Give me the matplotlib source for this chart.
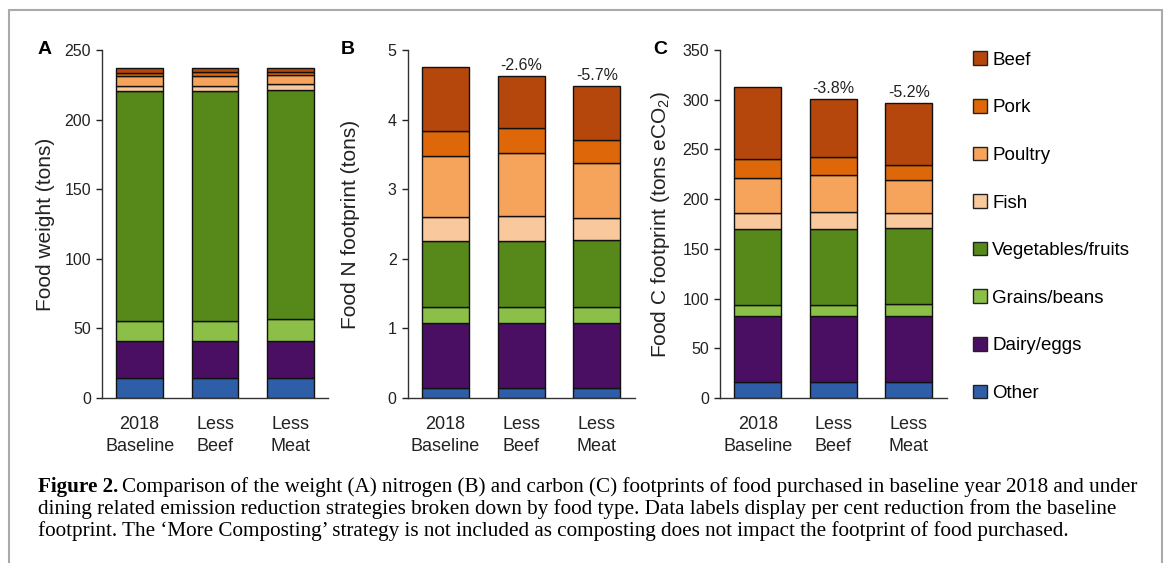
import numpy as np
import matplotlib
matplotlib.use("Agg")
import matplotlib.pyplot as plt
from matplotlib.patches import Patch, Rectangle

plt.rcParams['font.family'] = ['Liberation Sans', 'DejaVu Sans']
plt.rcParams['mathtext.fontset'] = 'custom'
plt.rcParams['mathtext.rm'] = 'Liberation Sans'
plt.rcParams['mathtext.it'] = 'Liberation Sans:italic'

scenarios = ['2018\nBaseline', 'Less\nBeef', 'Less\nMeat']
food_types = ['Other', 'Dairy/eggs', 'Grains/beans', 'Vegetables/fruits',
              'Fish', 'Poultry', 'Pork', 'Beef']
colors = ['#2f5ea8', '#4a0f62', '#8cbf48', '#56881a',
          '#f9c99d', '#f6a35c', '#de6809', '#b5470d']

# segment values per food type (bottom -> top), one value per scenario
weight = {
    'Other':             [14.6, 14.6, 14.6],
    'Dairy/eggs':        [26.6, 26.6, 26.6],
    'Grains/beans':      [14.3, 14.3, 15.3],
    'Vegetables/fruits': [165.0, 165.0, 165.0],
    'Fish':              [3.6, 3.7, 4.1],
    'Poultry':           [7.2, 7.4, 6.4],
    'Pork':              [2.4, 2.4, 2.5],
    'Beef':              [3.6, 3.1, 2.5],
}
nitrogen = {
    'Other':             [0.15, 0.15, 0.15],
    'Dairy/eggs':        [0.93, 0.93, 0.93],
    'Grains/beans':      [0.23, 0.23, 0.23],
    'Vegetables/fruits': [0.945, 0.945, 0.96],
    'Fish':              [0.345, 0.365, 0.32],
    'Poultry':           [0.87, 0.905, 0.79],
    'Pork':              [0.37, 0.36, 0.33],
    'Beef':              [0.91, 0.745, 0.775],
}
carbon = {
    'Other':             [16.1, 16.1, 16.1],
    'Dairy/eggs':        [66.1, 66.1, 66.1],
    'Grains/beans':      [11.1, 11.1, 12.1],
    'Vegetables/fruits': [76.8, 76.8, 76.5],
    'Fish':              [16.1, 16.9, 14.8],
    'Poultry':           [35.3, 37.5, 33.9],
    'Pork':              [18.5, 18.1, 15.0],
    'Beef':              [73.1, 58.4, 62.5],
}
n_labels = ['', '-2.6%', '-5.7%']
c_labels = ['', '-3.8%', '-5.2%']

W, H = 1168, 563
fig = plt.figure(figsize=(W / 100, H / 100), dpi=100)

# grey frame around the figure block
fig.patches.append(Rectangle((9 / W, -0.1), (1162 - 9) / W, 1.1 - 10 / H,
                             transform=fig.transFigure, fill=False,
                             edgecolor='#aaaaaa', lw=1.5))


def stacked(ax, data, ylim, yticks, ylabel, letter, letter_x, pct=None):
    x = np.arange(len(scenarios))
    bottom = np.zeros(len(scenarios))
    for name, col in zip(food_types, colors):
        vals = np.array(data[name])
        ax.bar(x, vals, 0.62, bottom=bottom, color=col, edgecolor='#111111',
               linewidth=1.0, label=name)
        bottom += vals
    if pct is not None:
        for xi, tot, lab in zip(x, bottom, pct):
            if lab:
                ax.annotate(lab, (xi, tot), xytext=(0, 2), textcoords='offset points',
                            ha='center', va='bottom', fontsize=11.5, color='#222222')
    ax.set_xlim(-0.5, 2.5)
    ax.set_ylim(*ylim)
    ax.set_yticks(yticks)
    ax.set_xticks(x)
    ax.set_xticklabels(scenarios, fontsize=13, linespacing=1.4)
    ax.tick_params(axis='x', length=0, pad=13, colors='#222222')
    ax.tick_params(axis='y', length=4, width=1, labelsize=11.5, pad=4, colors='#222222')
    for s in ['top', 'right']:
        ax.spines[s].set_visible(False)
    for s in ['left', 'bottom']:
        ax.spines[s].set_color('#333333')
        ax.spines[s].set_linewidth(1.0)
    ax.set_ylabel(ylabel, fontsize=15, color='#222222')
    ax.yaxis.set_label_coords(-0.21, 0.5)
    ax.text(letter_x, 1.0, letter, transform=ax.transAxes, fontsize=14,
            fontweight='bold', ha='center', va='center')


ax_a = fig.add_axes([102 / W, (H - 398) / H, 226 / W, 348 / H])
ax_b = fig.add_axes([407.7 / W, (H - 398) / H, 227 / W, 348 / H])
ax_c = fig.add_axes([720 / W, (H - 398) / H, 226.7 / W, 348 / H])

stacked(ax_a, weight, (0, 250), range(0, 251, 50), 'Food weight (tons)', 'A', -0.252)
stacked(ax_b, nitrogen, (0, 5), range(0, 6), 'Food N footprint (tons)', 'B', -0.263,
        n_labels)
stacked(ax_c, carbon, (0, 350), range(0, 351, 50),
        'Food C footprint (tons eCO$_2$)', 'C', -0.265, c_labels)

handles = [Patch(facecolor=c, edgecolor='#222222', lw=1.0, label=n)
           for n, c in zip(food_types[::-1], colors[::-1])]
fig.legend(handles=handles, loc='upper left', bbox_to_anchor=(964 / W, 1 - 42 / H),
           frameon=False, fontsize=13.5, handlelength=0.75, handleheight=0.75,
           handletextpad=0.25, labelspacing=1.61, borderpad=0)

# caption
cap_font = ['Liberation Serif', 'DejaVu Serif']
cap_size = 15.2
fig.canvas.draw()
r = fig.canvas.get_renderer()
t0 = fig.text(38 / W, 1 - 487 / H, 'Figure 2.', family=cap_font, fontsize=cap_size,
              fontweight='bold', va='center')
bb = t0.get_window_extent(renderer=r)
fig.text((bb.x1 + 4) / W, 1 - 487 / H,
         'Comparison of the weight (A) nitrogen (B) and carbon (C) footprints of food '
         'purchased in baseline year 2018 and under',
         family=cap_font, fontsize=cap_size, va='center')
fig.text(38 / W, 1 - 509 / H,
         'dining related emission reduction strategies broken down by food type. Data '
         'labels display per cent reduction from the baseline',
         family=cap_font, fontsize=cap_size, va='center')
fig.text(38 / W, 1 - 531 / H,
         'footprint. The \u2018More Composting\u2019 strategy is not included as composting '
         'does not impact the footprint of food purchased.',
         family=cap_font, fontsize=cap_size, va='center')

fig.savefig('out.png', dpi=100)
